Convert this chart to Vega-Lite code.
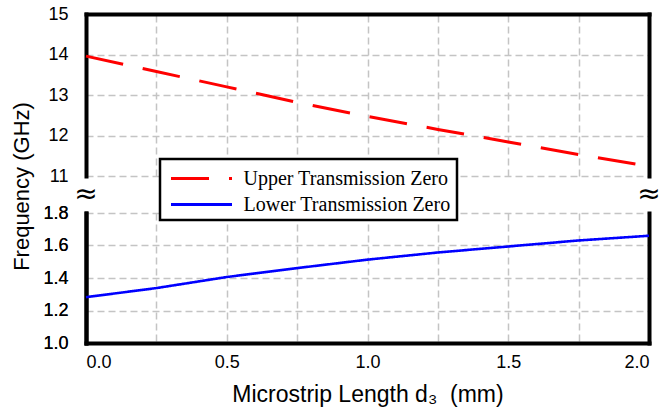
{
  "$schema": "https://vega.github.io/schema/vega-lite/v6.json",
  "padding": {"left": 10, "top": 5, "right": 5, "bottom": 5},
  "background": "white",
  "data": {"values": [
    {"d3": 0.0, "freq": 13.96, "series": "Upper Transmission Zero"},
    {"d3": 0.25, "freq": 13.58, "series": "Upper Transmission Zero"},
    {"d3": 0.5, "freq": 13.20, "series": "Upper Transmission Zero"},
    {"d3": 0.75, "freq": 12.82, "series": "Upper Transmission Zero"},
    {"d3": 1.0, "freq": 12.47, "series": "Upper Transmission Zero"},
    {"d3": 1.25, "freq": 12.15, "series": "Upper Transmission Zero"},
    {"d3": 1.5, "freq": 11.84, "series": "Upper Transmission Zero"},
    {"d3": 1.75, "freq": 11.53, "series": "Upper Transmission Zero"},
    {"d3": 2.0, "freq": 11.24, "series": "Upper Transmission Zero"},
    {"d3": 0.0, "freq": 1.282, "series": "Lower Transmission Zero"},
    {"d3": 0.25, "freq": 1.338, "series": "Lower Transmission Zero"},
    {"d3": 0.5, "freq": 1.406, "series": "Lower Transmission Zero"},
    {"d3": 0.75, "freq": 1.461, "series": "Lower Transmission Zero"},
    {"d3": 1.0, "freq": 1.513, "series": "Lower Transmission Zero"},
    {"d3": 1.25, "freq": 1.557, "series": "Lower Transmission Zero"},
    {"d3": 1.5, "freq": 1.594, "series": "Lower Transmission Zero"},
    {"d3": 1.75, "freq": 1.631, "series": "Lower Transmission Zero"},
    {"d3": 2.0, "freq": 1.660, "series": "Lower Transmission Zero"}
  ]},
  "bounds": "flush",
  "spacing": 37,
  "vconcat": [
    {
      "width": 563,
      "height": 162,
      "transform": [{"filter": "datum.series == 'Upper Transmission Zero'"}],
      "encoding": {
        "x": {"field": "d3", "type": "quantitative",
          "scale": {"domain": [0, 2], "nice": false},
          "axis": {"orient": "top", "values": [0, 0.25, 0.5, 0.75, 1, 1.25, 1.5, 1.75, 2], "labels": false, "title": null}}
      },
      "layer": [
        {
          "mark": {"type": "line", "strokeWidth": 3},
          "encoding": {
            "y": {"field": "freq", "type": "quantitative",
              "scale": {"domain": [11, 15], "nice": false, "zero": false},
              "axis": {"values": [11, 12, 13, 14, 15], "format": "d", "grid": true,
                "title": "Frequency (GHz)", "titleX": -53, "titleY": 172, "titleAngle": -90, "titleAlign": "center", "titleBaseline": "bottom"}},
            "color": {"field": "series", "type": "nominal",
              "scale": {"domain": ["Upper Transmission Zero", "Lower Transmission Zero"], "range": ["#ff0000", "#0000ff"]},
              "legend": {"title": null}},
            "strokeDash": {"field": "series", "type": "nominal",
              "scale": {"domain": ["Upper Transmission Zero", "Lower Transmission Zero"], "range": [[38, 20], [1, 0]]},
              "legend": {"title": null}}
          }
        },
        {
          "mark": {"type": "line", "strokeOpacity": 0},
          "encoding": {
            "y": {"field": "freq", "type": "quantitative",
              "axis": {"orient": "right", "labels": false, "grid": false, "values": [11, 15], "title": null}}
          }
        }
      ],
      "resolve": {"axis": {"y": "independent"}}
    },
    {
      "width": 563,
      "height": 130,
      "transform": [{"filter": "datum.series == 'Lower Transmission Zero'"}],
      "encoding": {
        "x": {"field": "d3", "type": "quantitative",
          "scale": {"domain": [0, 2], "nice": false},
          "axis": {"orient": "bottom", "values": [0, 0.25, 0.5, 0.75, 1, 1.25, 1.5, 1.75, 2],
            "labelExpr": "(datum.value * 2) % 1 == 0 ? format(datum.value, '.1f') : ''",
            "labelPadding": 10, "titlePadding": 12, "titleFontSize": 23,
            "title": "Microstrip Length d₃\u00a0 (mm)"}}
      },
      "layer": [
        {
          "mark": {"type": "line", "strokeWidth": 2.6},
          "encoding": {
            "y": {"field": "freq", "type": "quantitative",
              "scale": {"domain": [1.0, 1.8], "nice": false, "zero": false},
              "axis": {"values": [1.0, 1.2, 1.4, 1.6, 1.8], "format": ".1f", "grid": true, "title": null}},
            "color": {"field": "series", "type": "nominal",
              "scale": {"domain": ["Upper Transmission Zero", "Lower Transmission Zero"], "range": ["#ff0000", "#0000ff"]},
              "legend": {"title": null}},
            "strokeDash": {"field": "series", "type": "nominal",
              "scale": {"domain": ["Upper Transmission Zero", "Lower Transmission Zero"], "range": [[38, 20], [1, 0]]},
              "legend": {"title": null}}
          }
        },
        {
          "mark": {"type": "line", "strokeOpacity": 0},
          "encoding": {
            "y": {"field": "freq", "type": "quantitative",
              "axis": {"orient": "right", "labels": false, "grid": false, "values": [1.0, 1.8], "title": null}}
          }
        },
        {
          "transform": [{"filter": "datum.d3 == 0 || datum.d3 == 2"}],
          "mark": {"type": "text", "text": "≈", "font": "DejaVu Sans", "fontSize": 28, "color": "black", "dy": -18, "clip": false, "baseline": "middle", "align": "center"},
          "encoding": {
            "y": {"datum": 1.8, "type": "quantitative"}
          }
        }
      ],
      "resolve": {"axis": {"y": "independent"}}
    }
  ],
  "config": {
    "view": {"stroke": null},
    "axis": {
      "labelFont": "Liberation Sans", "labelFontSize": 18, "labelColor": "black",
      "titleFont": "Liberation Sans", "titleFontSize": 22, "titleFontWeight": "normal", "titleColor": "black",
      "domainColor": "black", "domainWidth": 4, "domainCap": "square",
      "ticks": false, "tickSize": 0,
      "grid": true, "gridColor": "#c4c4c4", "gridDash": [7, 4], "gridWidth": 1.5
    },
    "axisY": {"labelPadding": 18},
    "legend": {
      "orient": "none", "legendX": 74, "legendY": 145, "direction": "vertical",
      "labelFont": "Liberation Serif", "labelFontSize": 20, "labelColor": "black", "labelLimit": 400,
      "symbolType": "M-2.44,0L2.44,0", "symbolSize": 625, "symbolStrokeWidth": 3, "symbolOffset": 22,
      "labelOffset": 28, "padding": 5.5, "rowPadding": 2,
      "strokeColor": "black", "strokeWidth": 2.5, "fillColor": "white"
    }
  }
}
